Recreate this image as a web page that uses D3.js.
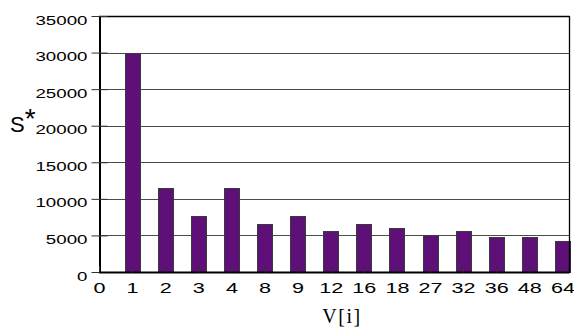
<!DOCTYPE html>
<html>
<head>
<meta charset="utf-8">
<script src="https://cdn.jsdelivr.net/npm/d3@7"></script>
<style>
html,body{margin:0;padding:0;background:#fff;}
svg{display:block;}
</style>
</head>
<body>
<svg id="chart" width="574" height="329"></svg>
<script>
const categories = ["0","1","2","3","4","8","9","12","16","18","27","32","36","48","64"];
const values = [0,30000,11500,7600,11500,6600,7600,5600,6600,6000,5000,5600,4800,4800,4300];
const yTicks = [0,5000,10000,15000,20000,25000,30000,35000];

(function(){
const svg = d3.select("#chart");
const pL = 99, pR = 569, pT = 16, pB = 272;

const x = d3.scalePoint().domain(categories).range([pL, pL + 14*33.1]);
const y = d3.scaleLinear().domain([0,35000]).range([pB, pT]);
const barW = 15;

// gridlines
svg.append("g").selectAll("line").data(yTicks.filter(t => t>0 && t<35000)).join("line")
  .attr("x1", pL).attr("x2", pR)
  .attr("y1", d => Math.round(y(d))+0.5).attr("y2", d => Math.round(y(d))+0.5)
  .attr("stroke", "#4a4a4a").attr("stroke-width", 1);

// bars
const barData = values.map((v,i)=>({c:categories[i], v})).filter(d => d.v > 0);
svg.append("g").selectAll("rect").data(barData).join("rect")
  .attr("x", d => Math.round(x(d.c) - barW/2) + 0.5)
  .attr("y", d => Math.round(y(d.v)) + 0.5)
  .attr("width", barW)
  .attr("height", d => Math.round(y(0)) - Math.round(y(d.v)))
  .attr("fill", "#5e0f78")
  .attr("stroke", "#3a3a3a")
  .attr("stroke-width", 1);

// frame: top and right
svg.append("line").attr("x1", pL).attr("x2", pR+0.5).attr("y1", pT+0.5).attr("y2", pT+0.5)
  .attr("stroke", "#000").attr("stroke-width", 1.3);
svg.append("line").attr("x1", pR+0.5).attr("x2", pR+0.5).attr("y1", pT).attr("y2", pB+0.5)
  .attr("stroke", "#000").attr("stroke-width", 1.3);

// y axis
const yAxis = d3.axisLeft(y).tickValues(yTicks).tickSizeInner(8).tickSizeOuter(0).tickPadding(4);
const gy = svg.append("g").attr("transform", `translate(${pL+0.5},0)`).call(yAxis);
gy.select(".domain").attr("stroke", "#000").attr("stroke-width", 2);
gy.selectAll(".tick line").attr("x2", -8).attr("x1", 8).attr("stroke", "#333");
gy.selectAll(".tick text").remove();
gy.selectAll(".tick").append("text")
  .attr("transform", "translate(-12,8) scale(1.44,1)")
  .attr("text-anchor", "end")
  .attr("fill", "#000")
  .style("font-family", "Liberation Sans, Arial, sans-serif")
  .style("font-size", "13px")
  .text(d => d);

// x axis
const xAxis = d3.axisBottom(x).tickSizeInner(-6).tickSizeOuter(0).tickPadding(0);
const gx = svg.append("g").attr("transform", `translate(0,${pB+0.5})`).call(xAxis);
gx.select(".domain").attr("stroke", "#000").attr("stroke-width", 2).attr("d", `M${pL},0H${pR+0.5}`);
gx.selectAll(".tick line").attr("stroke", "#333");
gx.selectAll(".tick text").remove();
gx.selectAll(".tick").append("text")
  .attr("transform", "translate(0,20.5) scale(1.44,1)")
  .attr("text-anchor", "middle")
  .attr("fill", "#000")
  .style("font-family", "Liberation Sans, Arial, sans-serif")
  .style("font-size", "15px")
  .text(d => d);

// axis titles
const st = svg.append("text").attr("x", 10).attr("y", 132)
  .style("font-family", "Liberation Sans, Arial, sans-serif").style("font-size", "22px")
  .attr("fill", "#000");
st.append("tspan").text("S");
st.append("tspan").attr("dy", -4).style("font-size", "28px").text("*");
svg.append("text").attr("x", 342).attr("y", 323).attr("text-anchor", "middle")
  .style("font-family", "Liberation Serif, Times New Roman, serif").style("font-size", "20px")
  .style("letter-spacing", "1.5px")
  .attr("fill", "#000").text("V[i]");
})();
</script>
</body>
</html>
